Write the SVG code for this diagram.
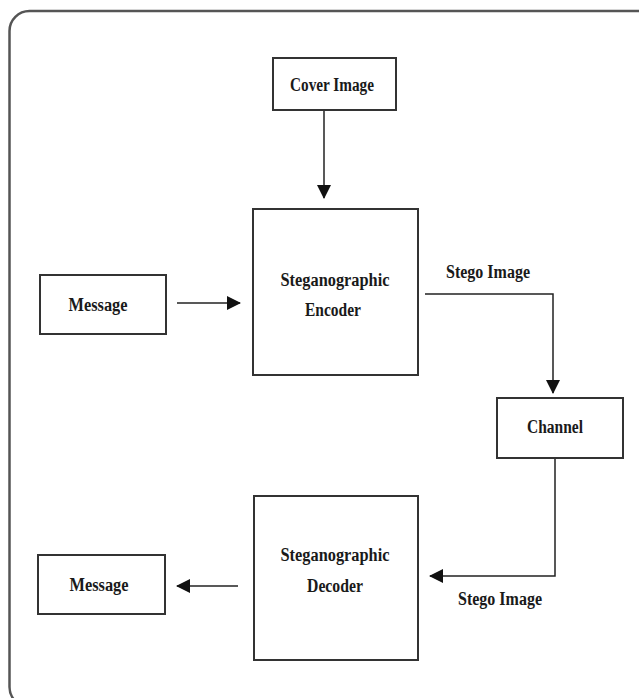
<svg xmlns="http://www.w3.org/2000/svg" width="639" height="698" viewBox="0 0 639 698">
<style>
.box{fill:#fff;stroke:#333;stroke-width:2}
.lbl{font-family:"Liberation Serif",serif;font-weight:bold;font-size:18px;fill:#1a1a1a;text-anchor:middle}
.con{fill:none;stroke:#222;stroke-width:1.5}
</style>
<defs>
<marker id="ah" markerWidth="14" markerHeight="14" refX="13" refY="7" orient="auto" markerUnits="userSpaceOnUse">
<path d="M0,0 L14,7 L0,14 Z" fill="#111"/>
</marker>
</defs>
<rect x="0" y="0" width="639" height="698" fill="#fff"/>
<rect x="9.5" y="11" width="660" height="696" rx="20" ry="20" fill="none" stroke="#555" stroke-width="2.5"/>
<g id="connectors">
<line class="con" x1="324" y1="111" x2="324" y2="198" marker-end="url(#ah)"/>
<line class="con" x1="177" y1="303" x2="240" y2="303" marker-end="url(#ah)"/>
<polyline class="con" points="425,294 553,294 553,393" marker-end="url(#ah)"/>
<polyline class="con" points="555,459 555,576 430,576" marker-end="url(#ah)"/>
<line class="con" x1="238" y1="586" x2="177" y2="586" marker-end="url(#ah)"/>
<text class="lbl" x="488" y="278" textLength="84" lengthAdjust="spacingAndGlyphs">Stego Image</text>
<text class="lbl" x="500" y="605" textLength="84" lengthAdjust="spacingAndGlyphs">Stego Image</text>
</g>
<g id="cover">
<rect class="box" x="273" y="58" width="123" height="52"/>
<text class="lbl" x="332" y="91" textLength="84" lengthAdjust="spacingAndGlyphs">Cover Image</text>
</g>
<g id="encoder">
<rect class="box" x="253" y="209" width="165" height="166"/>
<text class="lbl" x="335" y="286" textLength="109" lengthAdjust="spacingAndGlyphs">Steganographic</text>
<text class="lbl" x="333" y="316" textLength="56" lengthAdjust="spacingAndGlyphs">Encoder</text>
</g>
<g id="message_in">
<rect class="box" x="40" y="275" width="126" height="59"/>
<text class="lbl" x="98" y="311" textLength="59" lengthAdjust="spacingAndGlyphs">Message</text>
</g>
<g id="channel">
<rect class="box" x="497" y="398" width="126" height="60"/>
<text class="lbl" x="555" y="433" textLength="56" lengthAdjust="spacingAndGlyphs">Channel</text>
</g>
<g id="decoder">
<rect class="box" x="254" y="496" width="164" height="164"/>
<text class="lbl" x="335" y="561" textLength="109" lengthAdjust="spacingAndGlyphs">Steganographic</text>
<text class="lbl" x="335" y="592" textLength="56" lengthAdjust="spacingAndGlyphs">Decoder</text>
</g>
<g id="message_out">
<rect class="box" x="38" y="555" width="127" height="59"/>
<text class="lbl" x="99" y="591" textLength="59" lengthAdjust="spacingAndGlyphs">Message</text>
</g>
</svg>
